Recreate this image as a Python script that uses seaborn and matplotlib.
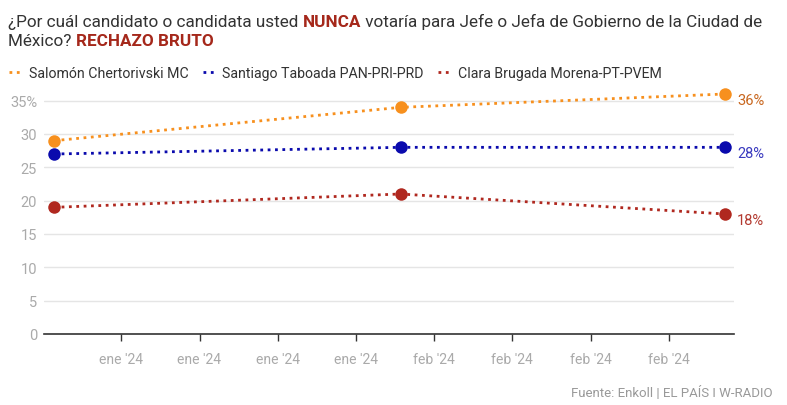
import numpy as np
import pandas as pd
import matplotlib
matplotlib.use("Agg")
import matplotlib.pyplot as plt
import matplotlib.dates as mdates
from matplotlib.lines import Line2D
from matplotlib.ticker import FuncFormatter
import seaborn as sns

# data
fechas = ["2024-01-01", "2024-02-01", "2024-03-01"]
candidatos = ["Salomón Chertorivski MC", "Santiago Taboada PAN-PRI-PRD", "Clara Brugada Morena-PT-PVEM"]
chertorivski = [29, 34, 36]
taboada = [27, 28, 28]
brugada = [19, 21, 18]
colores = ["#f7901e", "#0a0aad", "#b0281f"]
colores_etiqueta = ["#c8661e", "#3a3abf", "#b33a30"]
meses = ["ene", "feb", "mar", "abr", "may", "jun", "jul", "ago", "sep", "oct", "nov", "dic"]

df = pd.DataFrame({
    "fecha": pd.to_datetime(fechas * 3),
    "valor": chertorivski + taboada + brugada,
    "candidato": np.repeat(candidatos, 3),
})

sns.set_theme(style="white")
plt.rcParams["font.family"] = ["Roboto", "DejaVu Sans"]

fig = plt.figure(figsize=(7.87, 4.06), dpi=100)
ax = fig.add_axes([44 / 787, 71 / 406, 690 / 787, 240 / 406])

sns.lineplot(data=df, x="fecha", y="valor", hue="candidato", hue_order=candidatos,
             palette=colores, linestyle=":", linewidth=2.0, marker="o", markersize=9,
             markeredgewidth=0, ax=ax, legend=False, clip_on=False)

ax.set_xlim(pd.Timestamp("2023-12-31 02:00"), pd.Timestamp("2024-03-01 20:00"))
ax.set_ylim(0, 36)
ax.set_yticks(range(0, 36, 5))
ax.yaxis.set_major_formatter(FuncFormatter(lambda v, p: "35%" if v == 35 else f"{int(v)}"))
ax.xaxis.set_major_locator(mdates.WeekdayLocator(byweekday=mdates.SU))


def fmt_fecha(v, p):
    d = mdates.num2date(v)
    return f"{meses[d.month - 1]} '{d.strftime('%y')}"


ax.xaxis.set_major_formatter(FuncFormatter(fmt_fecha))
ax.set_xlabel("")
ax.set_ylabel("")

ax.grid(axis="y", color="#e5e5e5", linewidth=1)
ax.grid(axis="x", visible=False)
for s in ["top", "right", "left"]:
    ax.spines[s].set_visible(False)
ax.spines["bottom"].set_color("#333333")
ax.spines["bottom"].set_linewidth(1.2)
ax.tick_params(axis="y", length=0, labelsize=10.5, labelcolor="#aaaaaa", pad=5)
ax.tick_params(axis="x", length=5, width=1, color="#333333", labelsize=10,
               labelcolor="#aaaaaa", pad=8, bottom=True)

# etiquetas finales
finales = [chertorivski[-1], taboada[-1], brugada[-1]]
for v, c in zip(finales, colores_etiqueta):
    ax.annotate(f"{v}%", (pd.Timestamp(fechas[-1]), v), xytext=(9, -4),
                textcoords="offset points", color=c, fontsize=10.5, va="center",
                annotation_clip=False)

# titulo con partes en negrita
fig.canvas.draw()
renderer = fig.canvas.get_renderer()


def texto_rico(partes, x, y, size):
    for txt, peso, col in partes:
        t = fig.text(x, y, txt, fontsize=size, fontweight=peso, color=col, va="baseline")
        bb = t.get_window_extent(renderer)
        x += bb.width / fig.bbox.width


rojo = "#a5281b"
texto_rico([("¿Por cuál candidato o candidata usted ", "normal", "#333333"),
            ("NUNCA", "bold", rojo),
            (" votaría para Jefe o Jefa de Gobierno de la Ciudad de", "normal", "#333333")],
           8 / 787, 1 - 27 / 406, 12.3)
texto_rico([("México? ", "normal", "#333333"),
            ("RECHAZO BRUTO", "bold", rojo)],
           8 / 787, 1 - 46 / 406, 12.3)

# leyenda
handles = [Line2D([0], [0], color=c, linestyle=":", linewidth=2) for c in colores]
fig.legend(handles, candidatos, loc="upper left", bbox_to_anchor=(-4 / 787, 1 - 54 / 406),
           ncol=3, frameon=False, fontsize=10.2, handlelength=0.9, handletextpad=0.5,
           columnspacing=1.0, labelcolor="#333333")

fig.text(773 / 787, 1 - 397 / 406, "Fuente: Enkoll | EL PAÍS I W-RADIO", ha="right",
         fontsize=9.5, color="#999999")

fig.savefig("out.png", dpi=100)
